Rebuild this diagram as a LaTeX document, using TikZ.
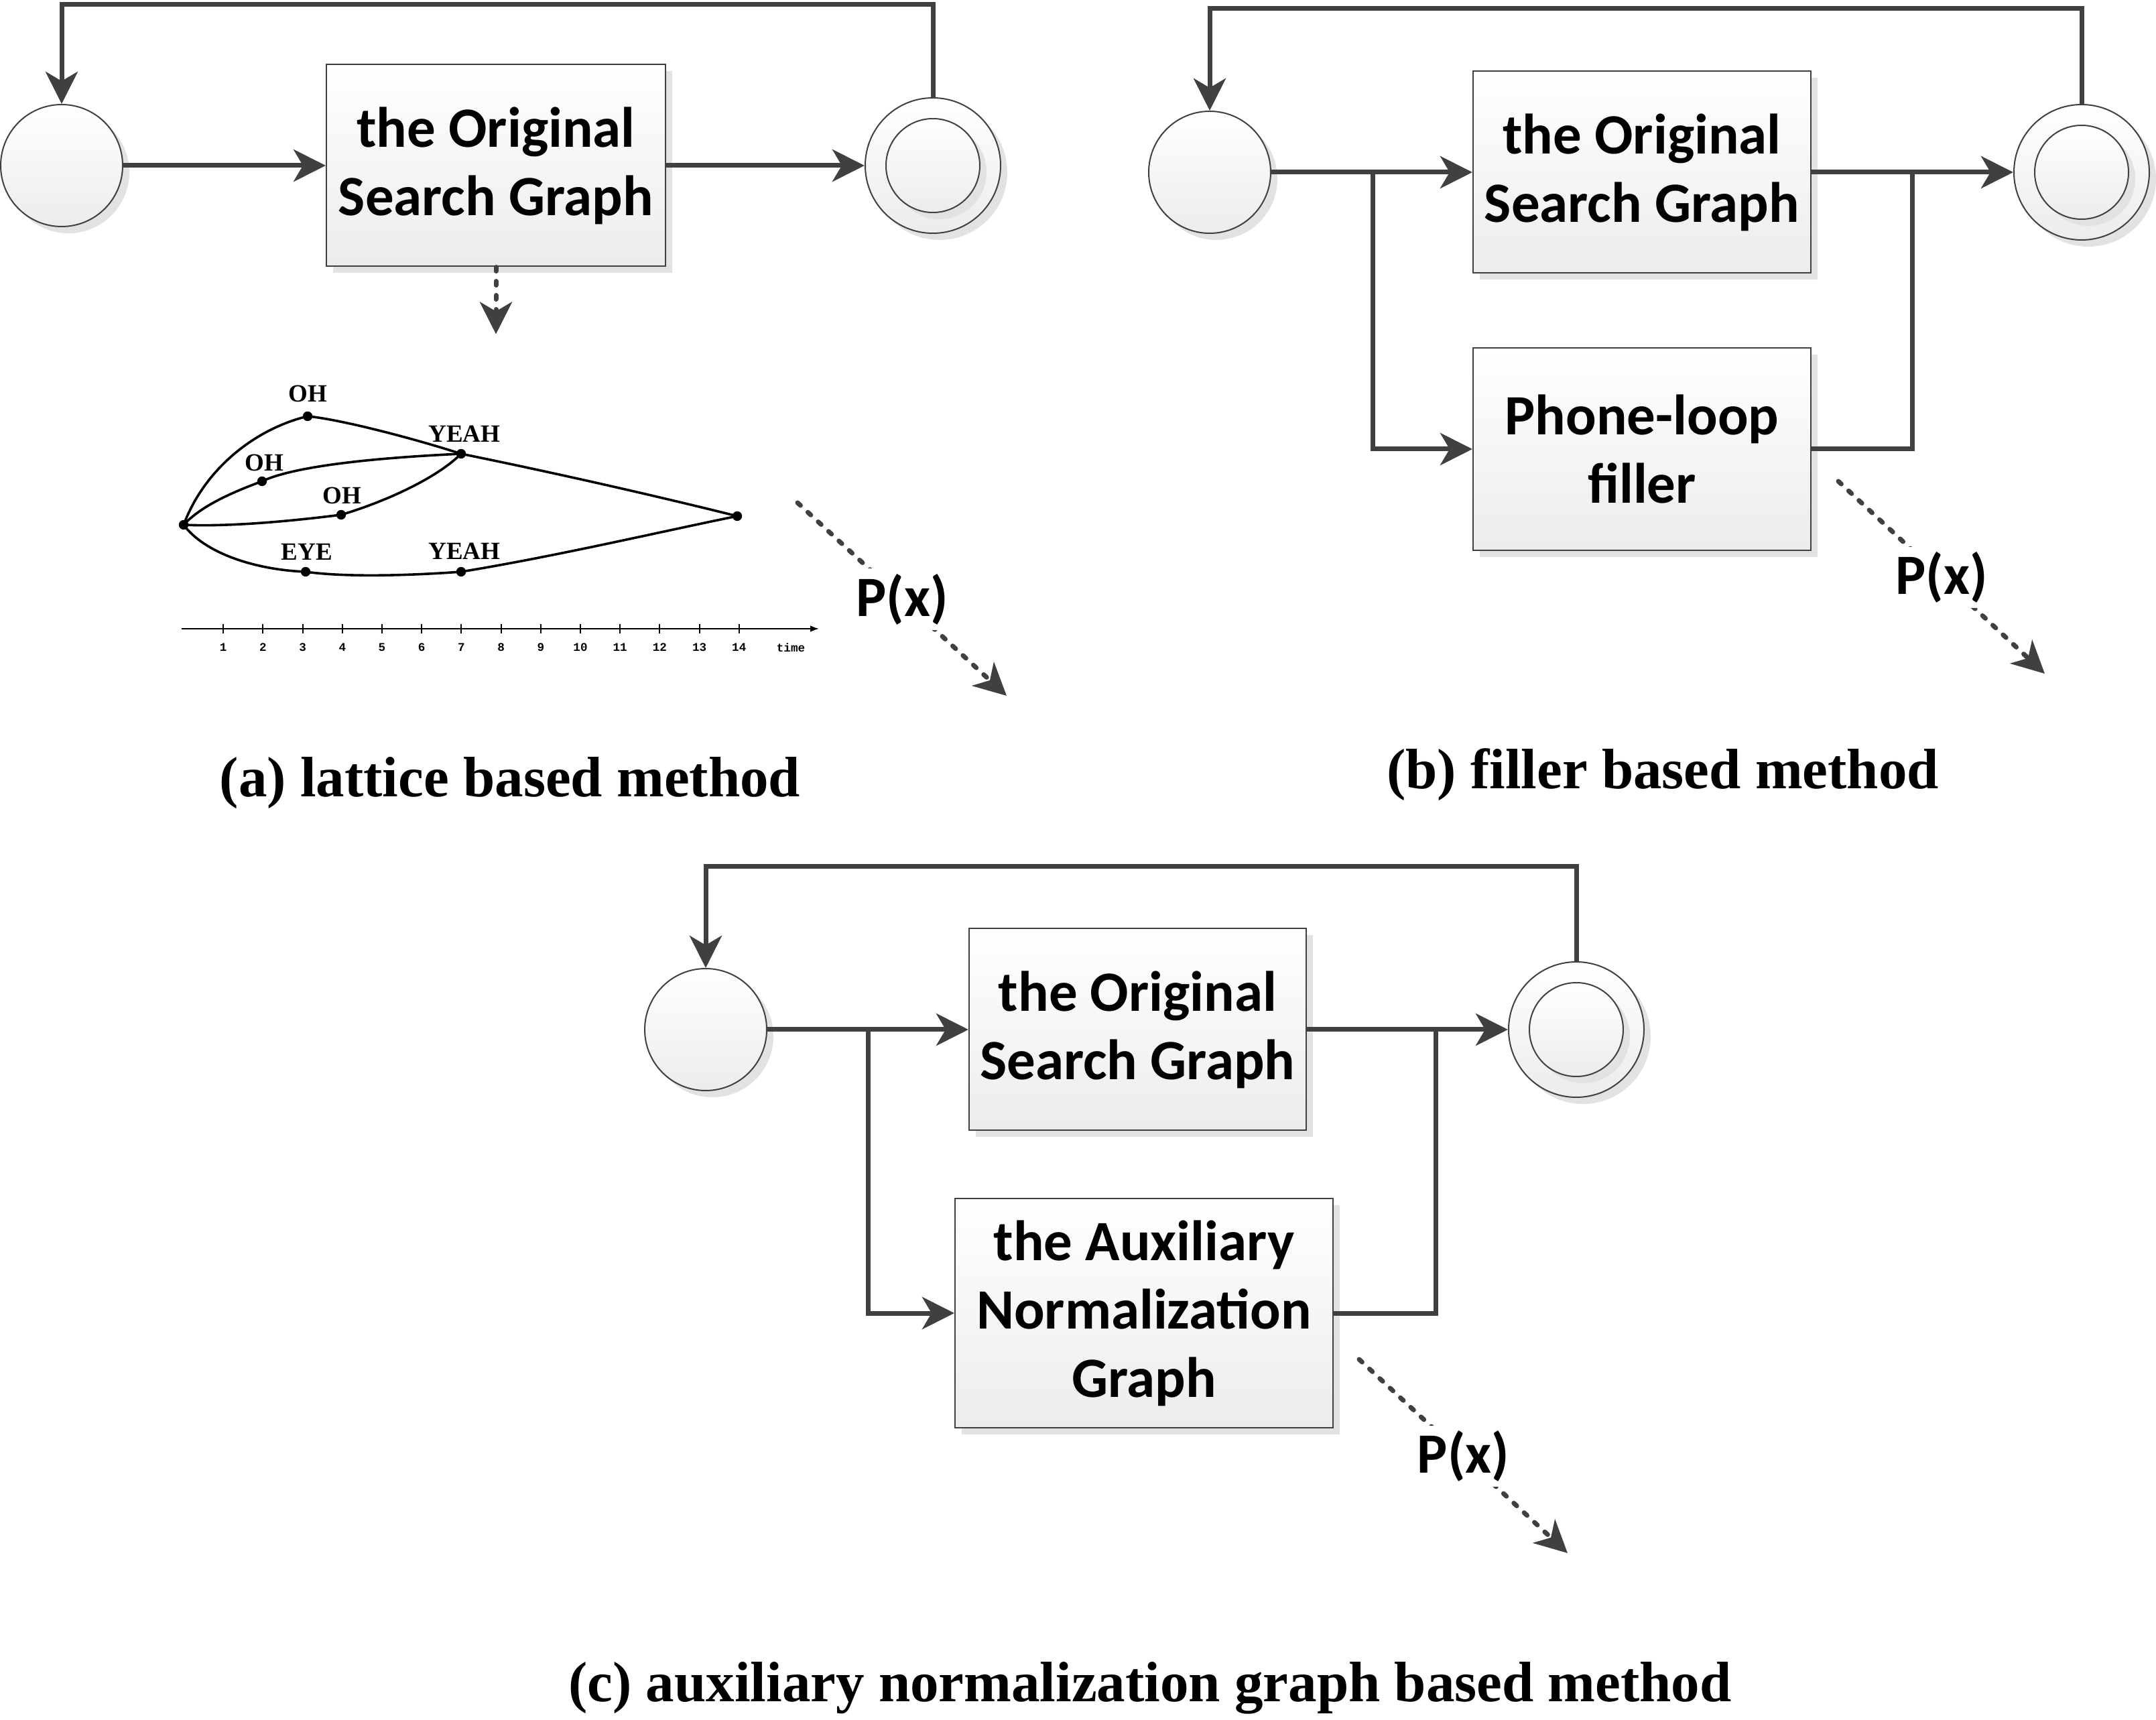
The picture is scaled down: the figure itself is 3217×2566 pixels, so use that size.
\documentclass[tikz,border=0pt]{standalone}
\usepackage{fontspec}
\setmainfont{Liberation Serif}
\newfontfamily\calfont{Carlito}
\newfontfamily\lmonofont{Liberation Mono}
\usetikzlibrary{arrows.meta,shadows}
\definecolor{linegray}{HTML}{404040}
\definecolor{shadowgray}{HTML}{E2E2E2}
\definecolor{fillbottom}{HTML}{ECECEC}
\begin{document}
\begin{tikzpicture}[x=0.25pt,y=-0.25pt,
  conn/.style={draw=linegray, line width=1.75pt, line join=miter},
  arr/.style={-{Stealth[length=12pt,width=12pt,inset=3.5pt]}},
  dashconn/.style={draw=linegray, line width=1.75pt, line cap=round, dash pattern=on 1.5pt off 3.75pt},
  shadowed/.style={drop shadow={shadow xshift=2.5pt,shadow yshift=-2.5pt,opacity=1,fill=shadowgray}},
  shbox/.style={rectangle, draw=linegray, line width=0.5pt, top color=white, bottom color=fillbottom,
    shadowed, font=\calfont\bfseries\fontsize{21.25}{25.5}\selectfont, align=center, inner sep=0pt},
  state/.style={circle, draw=linegray, line width=0.5pt, top color=white, bottom color=fillbottom,
    shadowed, inner sep=0pt, minimum size=45.5pt},
  outerstate/.style={state, minimum size=50.5pt},
  innerstate/.style={state, minimum size=35pt},
  pxlabel/.style={fill=white, inner sep=2pt, font=\calfont\bfseries\fontsize{21.25}{25.5}\selectfont},
  caption/.style={font=\bfseries\fontsize{21.25}{25}\selectfont, inner sep=0pt},
  ldot/.style={circle, fill=black, inner sep=0pt, minimum size=3.6pt},
  lcurve/.style={draw=black, line width=0.9pt},
  llabel/.style={font=\bfseries\fontsize{9.25}{11}\selectfont, inner sep=0pt, anchor=base},
  axisline/.style={draw=black, line width=0.5pt},
  axnum/.style={font=\lmonofont\bfseries\fontsize{4.4}{5}\selectfont, inner sep=0pt}
]
\useasboundingbox (0,0) rectangle (3217,2566);

% ---------------- panel (a) ----------------
\node[state] (a0) at (92,247) {};
\node[shbox, minimum width=126.5pt, minimum height=75.25pt] (a1) at (740,247) {the Original\\Search Graph};
\node[outerstate] (a2) at (1392,247) {};
\node[innerstate] (a2i) at (1392,247) {};
\draw[conn,arr] (a0) -- (a1);
\draw[conn,arr] (a1) -- (a2);
\draw[conn,arr] (a2.north) -- ++(0,-138) -| (a0.north);
\draw[dashconn,arr] (a1.south) -- ++(0,100);

% lattice
\node[ldot] (l0) at (274,783) {};
\node[ldot] (l1) at (459,621) {};
\node[ldot] (l2) at (391,718) {};
\node[ldot] (l3) at (509,768) {};
\node[ldot] (l4) at (688,677) {};
\node[ldot] (l5) at (456,853) {};
\node[ldot] (l6) at (688,853) {};
\node[ldot] (l7) at (1100,770) {};
\draw[lcurve] (l0.center) .. controls (305,700) and (380,640) .. (l1.center);
\draw[lcurve] (l1.center) .. controls (510,626) and (620,655) .. (l4.center);
\draw[lcurve] (l0.center) .. controls (300,755) and (345,735) .. (l2.center);
\draw[lcurve] (l2.center) .. controls (440,695) and (560,683) .. (l4.center);
\draw[lcurve] (l0.center) .. controls (340,786) and (430,778) .. (l3.center);
\draw[lcurve] (l3.center) .. controls (570,750) and (650,715) .. (l4.center);
\draw[lcurve] (l4.center) .. controls (850,710) and (1000,745) .. (l7.center);
\draw[lcurve] (l0.center) .. controls (305,825) and (380,850) .. (l5.center);
\draw[lcurve] (l5.center) .. controls (520,862) and (620,858) .. (l6.center);
\draw[lcurve] (l6.center) .. controls (830,830) and (1000,790) .. (l7.center);
\node[llabel] (lt1) at (459,600) {OH};
\node[llabel] (lt2) at (394,703) {OH};
\node[llabel] (lt3) at (510,752) {OH};
\node[llabel] (lt4) at (693,660) {YEAH};
\node[llabel] (lt5) at (458,836) {EYE};
\node[llabel] (lt6) at (693,835) {YEAH};
% time axis
\coordinate (ax0) at (271,938);
\coordinate (ax1) at (1222,938);
\draw[axisline,-{Latex[length=3.2pt,width=2.4pt]}] (ax0) -- (ax1);
\foreach \k in {1,...,14}{
  \pgfmathsetmacro\xx{274+59.2*\k}
  \draw[axisline] (\xx,931) -- (\xx,945);
  \node[axnum] (tk\k) at (\xx,966) {\k};
}
\node[axnum] (tktime) at (1180,966) {time};

\coordinate (pa0) at (1190,750);
\coordinate (pa1) at (1502,1038);
\draw[dashconn,arr] (pa0) -- node[pxlabel] (pxa) {P(x)} (pa1);
\node[caption, anchor=base] (capa) at (761,1189) {(a) lattice based method};

% ---------------- panel (b) ----------------
\node[state] (b0) at (1805,257) {};
\node[shbox, minimum width=126pt, minimum height=75.25pt] (b1) at (2450,257) {the Original\\Search Graph};
\node[shbox, minimum width=126pt, minimum height=75.5pt] (b2) at (2450,670) {Phone-loop\\filler};
\node[outerstate] (b3) at (3106,257) {};
\node[innerstate] (b3i) at (3106,257) {};
\coordinate (bsplit) at (2048,257);
\coordinate (bjoin) at (2853,257);
\draw[conn,arr] (b0) -- (b1);
\draw[conn,arr] (bsplit) |- (b2.west);
\draw[conn,arr] (b1) -- (b3);
\draw[conn] (b2.east) -| (bjoin);
\draw[conn,arr] (b3.north) -- ++(0,-142) -| (b0.north);
\coordinate (pb0) at (2743,718);
\coordinate (pb1) at (3051,1005);
\draw[dashconn,arr] (pb0) -- node[pxlabel] (pxb) {P(x)} (pb1);
\node[caption, anchor=base] (capb) at (2481,1177) {(b) filler based method};

% ---------------- panel (c) ----------------
\node[state] (c0) at (1053,1536) {};
\node[shbox, minimum width=125.75pt, minimum height=75.25pt] (c1) at (1697.5,1536) {the Original\\Search Graph};
\node[shbox, minimum width=141pt, minimum height=85.5pt] (c2) at (1707,1959) {the Auxiliary\\Normalization\\Graph};
\node[outerstate] (c3) at (2352,1536) {};
\node[innerstate] (c3i) at (2352,1536) {};
\coordinate (csplit) at (1295,1536);
\coordinate (cjoin) at (2142,1536);
\draw[conn,arr] (c0) -- (c1);
\draw[conn,arr] (csplit) |- (c2.west);
\draw[conn,arr] (c1) -- (c3);
\draw[conn] (c2.east) -| (cjoin);
\draw[conn,arr] (c3.north) -- ++(0,-141) -| (c0.north);
\coordinate (pc0) at (2028,2028);
\coordinate (pc1) at (2339,2317);
\draw[dashconn,arr] (pc0) -- node[pxlabel] (pxc) {P(x)} (pc1);
\node[caption, anchor=base] (capc) at (1716,2538) {(c) auxiliary normalization graph based method};
\end{tikzpicture}
\end{document}
